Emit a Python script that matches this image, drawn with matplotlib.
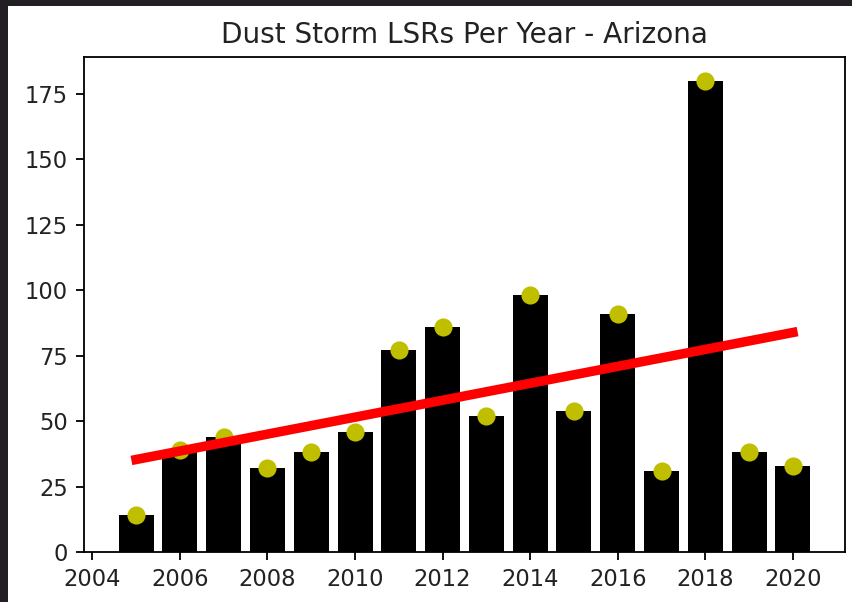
import matplotlib
matplotlib.use("Agg")
import matplotlib.pyplot as plt
import numpy as np
from matplotlib.patches import Rectangle

years = [2005, 2006, 2007, 2008, 2009, 2010, 2011, 2012,
         2013, 2014, 2015, 2016, 2017, 2018, 2019, 2020]
lsr_counts = [14, 39, 44, 32, 38, 46, 77, 86,
              52, 98, 54, 91, 31, 180, 38, 33]
x_ticks = [2004, 2006, 2008, 2010, 2012, 2014, 2016, 2018, 2020]
y_ticks = [0, 25, 50, 75, 100, 125, 150, 175]

DPI = 163
fig = plt.figure(figsize=(852 / DPI, 602 / DPI), dpi=DPI, facecolor="#221e24")
# white figure area inside the dark screenshot border
fig.patches.append(Rectangle((8 / 852, 0), 1 - 8 / 852, 1 - 6 / 602,
                             transform=fig.transFigure, facecolor="white",
                             edgecolor="none", zorder=-10))

ax = fig.add_axes([84 / 852, 50 / 602, (845 - 84) / 852, (552 - 57) / 602])
ax.bar(years, lsr_counts, width=0.8, color="black", zorder=2)
ax.plot(years, lsr_counts, "o", color="y", markersize=7, zorder=3)

# linear trend through the yearly counts
slope, intercept = np.polyfit(years, lsr_counts, 1)
trend = [slope * yr + intercept for yr in years]
ax.plot(years, trend, color="red", linewidth=4.2, zorder=4)

ax.set_xticks(x_ticks)
ax.set_yticks(y_ticks)
ax.set_title("Dust Storm LSRs Per Year - Arizona", fontsize=12.3, color="#222222")
ax.tick_params(labelcolor="#222222")

fig.savefig("out.png", dpi=DPI, facecolor=fig.get_facecolor())
